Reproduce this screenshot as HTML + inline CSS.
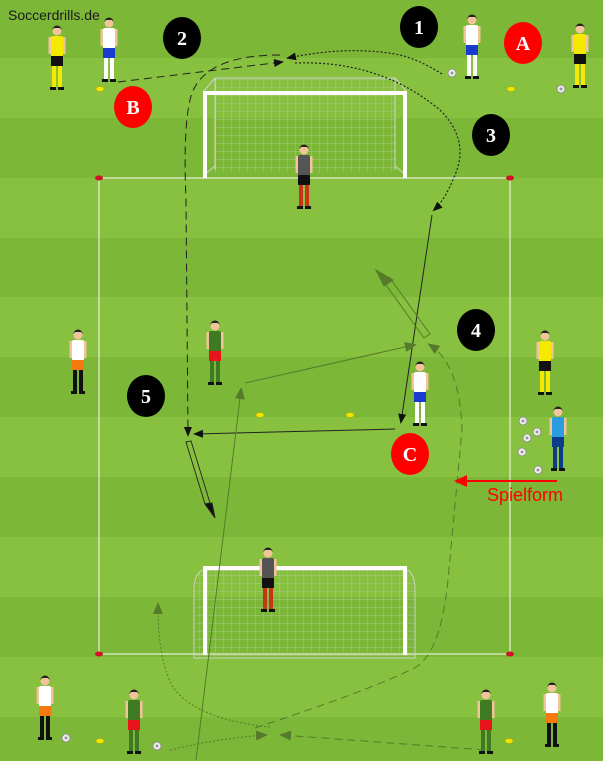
<!DOCTYPE html>
<html><head><meta charset="utf-8"><style>
html,body{margin:0;padding:0;width:603px;height:761px;overflow:hidden;background:#80ba3a}
svg{display:block}
</style></head><body>
<svg width="603" height="761" viewBox="0 0 603 761" xmlns="http://www.w3.org/2000/svg">
<defs>
<symbol id="pl" overflow="visible">
  <rect x="-8.5" y="11" width="3" height="17" fill="#f1c49a"/>
  <rect x="5.5" y="11" width="3" height="17" fill="#f1c49a"/>
  <rect x="-6" y="10" width="12" height="21" rx="2" fill="var(--s)"/>
  <rect x="-6" y="30" width="12" height="10" fill="var(--h)"/>
  <rect x="-5" y="40" width="4" height="22" fill="var(--k)"/>
  <rect x="1" y="40" width="4" height="22" fill="var(--k)"/>
  <rect x="-7" y="61" width="6" height="3" fill="#111"/>
  <rect x="1" y="61" width="6" height="3" fill="#111"/>
  <circle cx="0" cy="5" r="4.5" fill="#f1c49a"/>
  <path d="M-4.5 4 A4.5 4.5 0 0 1 4.5 4 L3 2 L-3 2Z" fill="#222"/>
</symbol>
<symbol id="ball" overflow="visible"><circle r="4" fill="#eee" stroke="#888" stroke-width="0.8"/><circle r="1.5" fill="#999"/></symbol>
<marker id="ab" markerWidth="10" markerHeight="10" refX="8" refY="5" orient="auto" markerUnits="userSpaceOnUse"><path d="M0 1 L10 5 L0 9Z" fill="#111"/></marker>
<marker id="ag" markerWidth="12" markerHeight="12" refX="9" refY="6" orient="auto" markerUnits="userSpaceOnUse"><path d="M0 1 L12 6 L0 11Z" fill="#557a2a"/></marker>
<pattern id="net" width="8" height="8" patternUnits="userSpaceOnUse"><path d="M8 0V8M0 8H8" stroke="#b9c9a8" stroke-width="0.7" fill="none"/></pattern>
</defs>
<!-- stripes -->
<rect width="603" height="761" fill="#7db737"/>
<g fill="#87c13f">
<rect y="58" width="603" height="60"/><rect y="178" width="603" height="60"/><rect y="297" width="603" height="60"/><rect y="417" width="603" height="60"/><rect y="537" width="603" height="60"/><rect y="657" width="603" height="60"/>
</g>
<text x="8" y="20" font-family="Liberation Sans, sans-serif" font-size="14" fill="#1a1a1a">Soccerdrills.de</text>

<!-- field -->
<rect x="99" y="178" width="411" height="476" fill="none" stroke="#e8f0d8" stroke-width="1.2"/>
<g fill="#d0102a"><ellipse cx="99" cy="178" rx="4" ry="2.5"/><ellipse cx="510" cy="178" rx="4" ry="2.5"/><ellipse cx="99" cy="654" rx="4" ry="2.5"/><ellipse cx="510" cy="654" rx="4" ry="2.5"/></g>

<!-- top goal -->
<rect x="215" y="78" width="180" height="95" fill="url(#net)"/>
<path d="M215 78H395V170M215 78V170M203 92L215 78M407 92L395 78M203 176L215 166M407 176L395 166" stroke="#cfd8c8" stroke-width="1" fill="none"/>
<path d="M205 178V93H405V178" stroke="#fff" stroke-width="4" fill="none"/>

<!-- bottom goal -->
<path d="M202 570 Q194 575 194 590V658H415V590Q415 575 408 570Z" fill="url(#net)" stroke="#c8d2c0" stroke-width="1"/>
<path d="M205 655V568H405V655" stroke="#fff" stroke-width="4" fill="none"/>

<!-- cones yellow -->
<g fill="#f2e600" stroke="#b0a000" stroke-width="0.5"><ellipse cx="100" cy="89" rx="4" ry="2.5"/><ellipse cx="511" cy="89" rx="4" ry="2.5"/><ellipse cx="260" cy="415" rx="4" ry="2.5"/><ellipse cx="350" cy="415" rx="4" ry="2.5"/><ellipse cx="100" cy="741" rx="4" ry="2.5"/><ellipse cx="509" cy="741" rx="4" ry="2.5"/></g>

<!-- arrows -->
<g fill="none" stroke="#222" stroke-width="1">
 <path d="M118 82L282 62" stroke-dasharray="8,5" marker-end="url(#ab)"/>
 <path d="M280 55Q200 55 190 100Q183 130 186 200L188 435" stroke-dasharray="8,5" marker-end="url(#ab)"/>
 <path d="M442 74Q420 60 400 55Q350 45 288 58" stroke-dasharray="2,2" stroke-width="1.2" marker-end="url(#ab)"/>
 <path d="M295 63Q380 60 440 110Q470 140 455 175Q445 200 434 210" stroke-dasharray="2,2" stroke-width="1.2" marker-end="url(#ab)"/>
 <path d="M432 215L401 422" marker-end="url(#ab)"/>
 <path d="M395 429L195 434" marker-end="url(#ab)"/>
 <path d="M186 442L205 504L210 503L191 441Z" stroke="#222" stroke-width="0.9"/>
 <path d="M205 504L215 518L212 503Z" fill="#111"/>
</g>
<g fill="none" stroke="#557a2a" stroke-width="1">
 <path d="M170 750Q220 738 265 735" stroke-dasharray="2,2" marker-end="url(#ag)"/>
 <path d="M270 727Q200 720 175 690Q158 665 158 605" stroke-dasharray="2,2" marker-end="url(#ag)"/>
 <path d="M485 750L282 735" stroke-dasharray="8,5" marker-end="url(#ag)"/>
 <path d="M255 728Q370 690 410 670Q440 660 448 580L462 430Q460 365 430 345" stroke-dasharray="8,5" marker-end="url(#ag)"/>
 <path d="M196 760L241 390" marker-end="url(#ag)"/>
 <path d="M245 383L414 345" marker-end="url(#ag)"/>
 <path d="M384 282L424 338L430 334L390 278Z"/>
 <path d="M376 270L393 280L384 286Z" fill="#557a2a"/>
</g>

<!-- players -->
<use href="#pl" x="57" y="26" style="--s:#f4ea00;--h:#111;--k:#f4ea00"/>
<use href="#pl" x="580" y="24" style="--s:#f4ea00;--h:#111;--k:#f4ea00"/>
<use href="#pl" x="545" y="331" style="--s:#f4ea00;--h:#111;--k:#f4ea00"/>
<use href="#pl" x="109" y="18" style="--s:#fff;--h:#1a3bd0;--k:#fff"/>
<use href="#pl" x="472" y="15" style="--s:#fff;--h:#1a3bd0;--k:#fff"/>
<use href="#pl" x="420" y="362" style="--s:#fff;--h:#1a3bd0;--k:#fff"/>
<use href="#pl" x="215" y="321" style="--s:#3e7a22;--h:#e8141a;--k:#3e7a22"/>
<use href="#pl" x="134" y="690" style="--s:#3e7a22;--h:#e8141a;--k:#3e7a22"/>
<use href="#pl" x="486" y="690" style="--s:#3e7a22;--h:#e8141a;--k:#3e7a22"/>
<use href="#pl" x="78" y="330" style="--s:#fff;--h:#f47a10;--k:#111"/>
<use href="#pl" x="45" y="676" style="--s:#fff;--h:#f47a10;--k:#111"/>
<use href="#pl" x="552" y="683" style="--s:#fff;--h:#f47a10;--k:#111"/>
<use href="#pl" x="558" y="407" style="--s:#2a9de0;--h:#0d3c8a;--k:#0d3c8a"/>
<use href="#pl" x="304" y="145" style="--s:#555;--h:#111;--k:#c8341a"/>
<use href="#pl" x="268" y="548" style="--s:#555;--h:#111;--k:#c8341a"/>

<!-- balls -->
<use href="#ball" x="452" y="73"/><use href="#ball" x="561" y="89"/>
<use href="#ball" x="523" y="421"/><use href="#ball" x="537" y="432"/><use href="#ball" x="527" y="438"/><use href="#ball" x="522" y="452"/><use href="#ball" x="538" y="470"/>
<use href="#ball" x="66" y="738"/><use href="#ball" x="157" y="746"/>

<!-- number circles -->
<g font-family="Liberation Serif, serif" font-weight="bold" font-size="20" text-anchor="middle" fill="#fff">
<ellipse cx="419" cy="27" rx="19" ry="21" fill="#000"/><text x="419" y="34">1</text>
<ellipse cx="182" cy="38" rx="19" ry="21" fill="#000"/><text x="182" y="45">2</text>
<ellipse cx="491" cy="135" rx="19" ry="21" fill="#000"/><text x="491" y="142">3</text>
<ellipse cx="476" cy="330" rx="19" ry="21" fill="#000"/><text x="476" y="337">4</text>
<ellipse cx="146" cy="396" rx="19" ry="21" fill="#000"/><text x="146" y="403">5</text>
<ellipse cx="523" cy="43" rx="19" ry="21" fill="#f00"/><text x="523" y="50">A</text>
<ellipse cx="133" cy="107" rx="19" ry="21" fill="#f00"/><text x="133" y="114">B</text>
<ellipse cx="410" cy="454" rx="19" ry="21" fill="#f00"/><text x="410" y="461">C</text>
</g>

<!-- Spielform -->
<path d="M557 481H464" stroke="#f00" stroke-width="2"/>
<path d="M454 481L467 475V487Z" fill="#f00"/>
<text x="487" y="501" font-family="Liberation Sans, sans-serif" font-size="18" fill="#f00">Spielform</text>
</svg>
</body></html>
